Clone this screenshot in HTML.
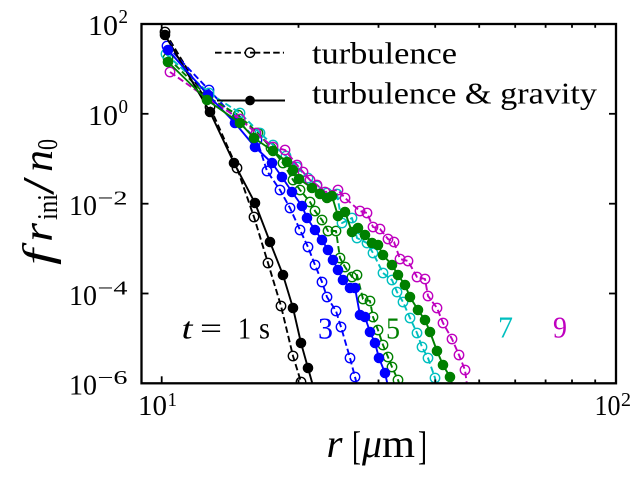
<!DOCTYPE html>
<html>
<head>
<meta charset="utf-8">
<style>
html,body{margin:0;padding:0;background:#fff;}
svg{display:block;font-family:"Liberation Serif","Times New Roman",Times,serif;}
svg text{font-family:"Liberation Serif","Times New Roman",Times,serif;}
</style>
</head>
<body>
<svg width="640" height="480" viewBox="0 0 640 480" xmlns="http://www.w3.org/2000/svg" font-family="'Liberation Serif', 'Times New Roman', Times, serif">
<defs>
<clipPath id="c"><rect x="141.5" y="24" width="474.5" height="359.3"/></clipPath>
<marker id="ok" markerWidth="12" markerHeight="12" refX="6" refY="6" markerUnits="userSpaceOnUse" overflow="visible"><circle cx="6" cy="6" r="4.7" fill="none" stroke="#000" stroke-width="1.4"/></marker>
<marker id="ob" markerWidth="12" markerHeight="12" refX="6" refY="6" markerUnits="userSpaceOnUse" overflow="visible"><circle cx="6" cy="6" r="4.7" fill="none" stroke="#0000ff" stroke-width="1.4"/></marker>
<marker id="og" markerWidth="12" markerHeight="12" refX="6" refY="6" markerUnits="userSpaceOnUse" overflow="visible"><circle cx="6" cy="6" r="4.7" fill="none" stroke="#008000" stroke-width="1.4"/></marker>
<marker id="oc" markerWidth="12" markerHeight="12" refX="6" refY="6" markerUnits="userSpaceOnUse" overflow="visible"><circle cx="6" cy="6" r="4.7" fill="none" stroke="#00bfbf" stroke-width="1.4"/></marker>
<marker id="om" markerWidth="12" markerHeight="12" refX="6" refY="6" markerUnits="userSpaceOnUse" overflow="visible"><circle cx="6" cy="6" r="4.7" fill="none" stroke="#bf00bf" stroke-width="1.4"/></marker>
<marker id="fk" markerWidth="12" markerHeight="12" refX="6" refY="6" markerUnits="userSpaceOnUse" overflow="visible"><circle cx="6" cy="6" r="4.9" fill="#000" stroke="#000" stroke-width="0.8"/></marker>
<marker id="fb" markerWidth="12" markerHeight="12" refX="6" refY="6" markerUnits="userSpaceOnUse" overflow="visible"><circle cx="6" cy="6" r="4.9" fill="#0000ff" stroke="#0000ff" stroke-width="0.8"/></marker>
<marker id="fg" markerWidth="12" markerHeight="12" refX="6" refY="6" markerUnits="userSpaceOnUse" overflow="visible"><circle cx="6" cy="6" r="4.9" fill="#008000" stroke="#008000" stroke-width="0.8"/></marker>
</defs>

<rect width="640" height="480" fill="#fff"/>

<g clip-path="url(#c)" fill="none" stroke-width="1.9" stroke-linejoin="round">
<polyline stroke="#000" stroke-dasharray="6.5 3.2" marker-start="url(#ok)" marker-mid="url(#ok)" marker-end="url(#ok)"
 points="165,32 210,107 237,168 254,217 268,263 281,306 293,356 301,382 306.5,400"/>
<polyline stroke="#0000ff" stroke-dasharray="6.5 3.2" marker-start="url(#ob)" marker-mid="url(#ob)" marker-end="url(#ob)"
 points="167,46 209,90 236,119 257,140 267,171 280,190 290,208 300,230 308,247 315,265 322,282 327,297 336,311 341,327 350,358 355,377 361,400"/>
<polyline stroke="#008000" stroke-dasharray="6.5 3.2" marker-start="url(#og)" marker-mid="url(#og)" marker-end="url(#og)"
 points="168,58 208,97 238,115 258,133 271,148 283,163 293,180 300,190 310,202 315,211 322,220 328,231 336,231 340,258 345,267 352,277 357,275 363,299 370,301 373,317 378,330 383,345 388,357 392,367 398,380 405,400"/>
<polyline stroke="#00bfbf" stroke-dasharray="6.5 3.2" marker-start="url(#oc)" marker-mid="url(#oc)" marker-end="url(#oc)"
 points="166,54 209,93 240,113 260,133 273,145 286,156 297,167 308,178 317,186 327,193 337,194 342,223 352,218 357,238 367,243 373,253 383,273 392,280 397,292 403,302 410,318 417,333 422,347 428,358 435,378 439,400"/>
<polyline stroke="#bf00bf" stroke-dasharray="6.5 3.2" marker-start="url(#om)" marker-mid="url(#om)" marker-end="url(#om)"
 points="170,72 207,98 240,119 256,133 273,147 285,150 297,165 303,172 310,180 317,185 325,192 338,190 345,198 360,211 367,213 373,227 380,229 388,239 394,242 400,259 408,261 417,277 425,279 428,296 437,308 443,323 452,339 459,355 465,370 469,400"/>
<polyline stroke="#000" marker-start="url(#fk)" marker-mid="url(#fk)" marker-end="url(#fk)"
 points="165,35 210,112 234,163 255,203 270,242 283,275 293,308 301,343 308,368 317,400"/>
<polyline stroke="#0000ff" marker-start="url(#fb)" marker-mid="url(#fb)" marker-end="url(#fb)"
 points="168,50 208,95 235,123 255,147 272,163 282,177 292,192 302,206 307,218 315,230 322,240 328,250 333,260 338,270 343,280 350,288 355,288 360,315 365,317 370,332 375,343 379,358 385,373 391,400"/>
<polyline stroke="#008000" marker-start="url(#fg)" marker-mid="url(#fg)" marker-end="url(#fg)"
 points="168,62 207,100 240,123 254,138 273,151 287,162 293,170 299,179 312,188 320,194 327,198 332,196 338,216 345,212 352,232 358,228 365,235 372,243 378,245 383,255 392,265 398,275 405,285 410,297 418,310 425,320 430,332 437,351 443,365 450,377 457,400"/>
</g>

<rect x="141.5" y="24" width="474.5" height="359.3" fill="none" stroke="#000" stroke-width="2.3"/>

<g stroke="#000" stroke-width="1.8">
<line x1="161.7" y1="383.3" x2="161.7" y2="376.3"/>
<line x1="161.7" y1="24" x2="161.7" y2="31"/>
<line x1="298.5" y1="383.3" x2="298.5" y2="379.5"/>
<line x1="378.5" y1="383.3" x2="378.5" y2="379.5"/>
<line x1="435.2" y1="383.3" x2="435.2" y2="379.5"/>
<line x1="479.2" y1="383.3" x2="479.2" y2="379.5"/>
<line x1="515.2" y1="383.3" x2="515.2" y2="379.5"/>
<line x1="545.6" y1="383.3" x2="545.6" y2="379.5"/>
<line x1="572.0" y1="383.3" x2="572.0" y2="379.5"/>
<line x1="595.2" y1="383.3" x2="595.2" y2="379.5"/>
<line x1="298.5" y1="24" x2="298.5" y2="27.8"/>
<line x1="378.5" y1="24" x2="378.5" y2="27.8"/>
<line x1="435.2" y1="24" x2="435.2" y2="27.8"/>
<line x1="479.2" y1="24" x2="479.2" y2="27.8"/>
<line x1="515.2" y1="24" x2="515.2" y2="27.8"/>
<line x1="545.6" y1="24" x2="545.6" y2="27.8"/>
<line x1="572.0" y1="24" x2="572.0" y2="27.8"/>
<line x1="595.2" y1="24" x2="595.2" y2="27.8"/>
<line x1="141.5" y1="113.8" x2="148.5" y2="113.8"/>
<line x1="141.5" y1="203.7" x2="148.5" y2="203.7"/>
<line x1="141.5" y1="293.5" x2="148.5" y2="293.5"/>
<line x1="616" y1="113.8" x2="609" y2="113.8"/>
<line x1="616" y1="203.7" x2="609" y2="203.7"/>
<line x1="616" y1="293.5" x2="609" y2="293.5"/>
</g>

<g font-size="29" fill="#000">
<text x="88" y="35" textLength="30" lengthAdjust="spacingAndGlyphs">10</text>
<text x="118.5" y="23" font-size="20" textLength="9.5" lengthAdjust="spacingAndGlyphs">2</text>
<text x="88" y="125" textLength="30" lengthAdjust="spacingAndGlyphs">10</text>
<text x="118.5" y="113" font-size="20" textLength="9.5" lengthAdjust="spacingAndGlyphs">0</text>
<text x="69" y="215" textLength="28" lengthAdjust="spacingAndGlyphs">10</text>
<text x="97.5" y="204.5" font-size="20" textLength="30" lengthAdjust="spacingAndGlyphs">−2</text>
<text x="69" y="305" textLength="28" lengthAdjust="spacingAndGlyphs">10</text>
<text x="97.5" y="294.5" font-size="20" textLength="30" lengthAdjust="spacingAndGlyphs">−4</text>
<text x="69" y="394.5" textLength="28" lengthAdjust="spacingAndGlyphs">10</text>
<text x="97.5" y="384" font-size="20" textLength="30" lengthAdjust="spacingAndGlyphs">−6</text>
</g>

<g font-size="29" fill="#000">
<text x="138" y="415" textLength="29" lengthAdjust="spacingAndGlyphs">10</text>
<text x="167.5" y="406" font-size="20" textLength="9.5" lengthAdjust="spacingAndGlyphs">1</text>
<text x="594.5" y="415" textLength="26" lengthAdjust="spacingAndGlyphs">10</text>
<text x="621" y="406" font-size="20" textLength="10" lengthAdjust="spacingAndGlyphs">2</text>
</g>

<g font-size="40" fill="#000">
<text x="326.5" y="457" font-style="italic" textLength="16" lengthAdjust="spacingAndGlyphs">r</text>
<text x="352" y="459" textLength="9" lengthAdjust="spacingAndGlyphs">[</text>
<text x="362" y="457" font-style="italic" textLength="20" lengthAdjust="spacingAndGlyphs">μ</text>
<text x="382" y="457" textLength="33" lengthAdjust="spacingAndGlyphs">m</text>
<text x="418" y="459" textLength="9" lengthAdjust="spacingAndGlyphs">]</text>
</g>

<g transform="rotate(-90)" fill="#000">
<text x="-265" y="52" font-size="42" font-style="italic" textLength="16" lengthAdjust="spacingAndGlyphs">f</text>
<text x="-242" y="52" font-size="42" font-style="italic" textLength="19" lengthAdjust="spacingAndGlyphs">r</text>
<text x="-220" y="57" font-size="28" textLength="26" lengthAdjust="spacingAndGlyphs">ini</text>
<text x="-195" y="53" font-size="44" textLength="18" lengthAdjust="spacingAndGlyphs">/</text>
<text x="-172" y="52" font-size="42" font-style="italic" textLength="22" lengthAdjust="spacingAndGlyphs">n</text>
<text x="-150" y="57" font-size="28" textLength="11" lengthAdjust="spacingAndGlyphs">0</text>
</g>

<line x1="215" y1="52.7" x2="284" y2="52.7" stroke="#000" stroke-width="1.9" stroke-dasharray="6.5 3.2"/>
<circle cx="250" cy="52.7" r="4.7" fill="#fff" stroke="#000" stroke-width="1.4"/>
<line x1="250" y1="52.7" x2="254" y2="52.7" stroke="#000" stroke-width="1.9"/>
<line x1="217" y1="100.5" x2="285" y2="100.5" stroke="#000" stroke-width="1.9"/>
<circle cx="250" cy="100.5" r="4.9" fill="#000"/>
<text x="312" y="63.3" font-size="31" textLength="145" lengthAdjust="spacingAndGlyphs" fill="#000">turbulence</text>
<text x="312" y="103.5" font-size="31" textLength="285" lengthAdjust="spacingAndGlyphs" fill="#000">turbulence &amp; gravity</text>

<g font-size="31">
<text x="181.5" y="338.5" font-style="italic" fill="#000" textLength="11" lengthAdjust="spacingAndGlyphs">t</text>
<text x="200" y="338.5" fill="#000" textLength="22" lengthAdjust="spacingAndGlyphs">=</text>
<text x="238" y="338.5" fill="#000" textLength="13" lengthAdjust="spacingAndGlyphs">1</text>
<text x="259" y="338.5" fill="#000" textLength="11" lengthAdjust="spacingAndGlyphs">s</text>
<text x="318" y="338.5" fill="#0000ff" textLength="15" lengthAdjust="spacingAndGlyphs">3</text>
<text x="386" y="338.5" fill="#008000" textLength="14" lengthAdjust="spacingAndGlyphs">5</text>
<text x="498" y="337.5" fill="#00bfbf" textLength="15" lengthAdjust="spacingAndGlyphs">7</text>
<text x="553" y="337.5" fill="#bf00bf" textLength="14" lengthAdjust="spacingAndGlyphs">9</text>
</g>
</svg>
</body>
</html>
